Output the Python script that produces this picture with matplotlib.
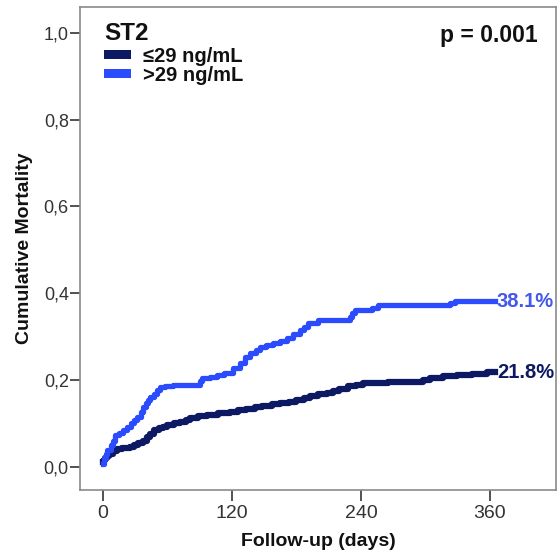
import numpy as np
import matplotlib
matplotlib.use("Agg")
import matplotlib.pyplot as plt
from matplotlib.patches import Patch

plt.rcParams['font.family'] = ['Liberation Sans', 'DejaVu Sans']

# Courbes de mortalité cumulée
jours_haut = [0, 1, 3, 4, 7, 9, 11, 15, 19, 22, 26, 29, 32, 35, 37, 40, 42, 44,
              47, 50, 53, 58, 65, 90, 92, 100, 106, 113, 121, 127, 132, 137,
              142, 146, 152, 158, 165, 171, 177, 183, 187, 191, 200, 230, 232,
              234, 250, 256, 323, 327, 365]
mort_haut = [0.005, 0.02, 0.03, 0.038, 0.05, 0.06, 0.073, 0.078, 0.085, 0.091,
             0.1, 0.107, 0.114, 0.125, 0.137, 0.147, 0.153, 0.16, 0.168, 0.176,
             0.183, 0.186, 0.188, 0.198, 0.204, 0.207, 0.211, 0.216, 0.227,
             0.24, 0.253, 0.262, 0.268, 0.276, 0.28, 0.285, 0.29, 0.296, 0.305,
             0.315, 0.322, 0.331, 0.338, 0.345, 0.355, 0.361, 0.366, 0.373,
             0.377, 0.381, 0.381]

jours_bas = [0, 1, 2, 4, 6, 9, 13, 18, 25, 29, 33, 37, 41, 44, 47, 52, 56, 60,
             66, 72, 77, 81, 88, 97, 107, 118, 126, 133, 141, 148, 157, 165,
             173, 180, 187, 193, 200, 208, 214, 220, 228, 235, 242, 265, 292,
             298, 304, 316, 329, 343, 357, 365]
mort_bas = [0.01, 0.015, 0.02, 0.025, 0.03, 0.035, 0.04, 0.042, 0.045, 0.05,
            0.054, 0.06, 0.068, 0.076, 0.084, 0.088, 0.092, 0.096, 0.1, 0.103,
            0.108, 0.112, 0.116, 0.12, 0.123, 0.127, 0.13, 0.133, 0.137, 0.14,
            0.144, 0.147, 0.15, 0.153, 0.158, 0.163, 0.167, 0.17, 0.175, 0.18,
            0.185, 0.189, 0.193, 0.194, 0.196, 0.2, 0.205, 0.208, 0.211, 0.214,
            0.218, 0.218]

etiquettes = ["\u226429 ng/mL", ">29 ng/mL"]
fin_bas, fin_haut = "21.8%", "38.1%"
x_ticks = [0, 120, 240, 360]
y_ticks = [0.0, 0.2, 0.4, 0.6, 0.8, 1.0]

c_bas = '#0d1a63'
c_haut = '#2b4bff'

fig = plt.figure(figsize=(5.57, 5.59), dpi=100)
ax = fig.add_axes([0.1436, 0.1234, 0.8546, 0.864])

ax.plot(jours_bas, mort_bas, drawstyle='steps-post', color=c_bas, lw=4.5)
ax.plot(jours_haut, mort_haut, drawstyle='steps-post', color=c_haut, lw=3.8)

ax.text(jours_haut[-1] + 1.5, mort_haut[-1], fin_haut, color='#4458ee',
        fontsize=14.5, fontweight='bold', va='center', ha='left')
ax.text(jours_bas[-1] + 1.5, mort_bas[-1], fin_bas, color=c_bas,
        fontsize=14.5, fontweight='bold', va='center', ha='left')

ax.text(0.05, 0.968, "ST2", transform=ax.transAxes, fontsize=17.5,
        fontweight='bold', va='top', ha='left', color='#111111')
ax.text(0.962, 0.965, "p = 0.001", transform=ax.transAxes, fontsize=16.5,
        fontweight='bold', va='top', ha='right', color='#111111')

handles = [Patch(facecolor=c_bas, edgecolor='none'),
           Patch(facecolor=c_haut, edgecolor='none')]
leg = ax.legend(handles, etiquettes, loc='upper left',
                bbox_to_anchor=(0.05, 0.918), frameon=False, fontsize=14.5,
                borderpad=0, borderaxespad=0, handlelength=1.35,
                handleheight=0.33, handletextpad=0.6, labelspacing=0)
for t in leg.get_texts():
    t.set_fontweight('bold')
    t.set_color('#111111')

ax.set_xlim(-21.4, 421.4)
ax.set_ylim(-0.054, 1.06)
ax.set_xticks(x_ticks)
ax.set_yticks(y_ticks)
ax.set_yticklabels([f"{v:.1f}".replace('.', ',') for v in y_ticks])

for s in ax.spines.values():
    s.set_color('#8a8a8a')
    s.set_linewidth(1.2)

ax.tick_params(axis='x', length=8, width=1.3, color='#444444', pad=3,
               labelsize=14, labelcolor='#333333')
ax.tick_params(axis='y', length=7, width=1.3, color='#444444', pad=1,
               labelsize=13, labelcolor='#333333')

ax.set_xlabel("Follow-up (days)", fontsize=14, fontweight='bold', labelpad=8,
              color='#111111')
ax.set_ylabel("Cumulative Mortality", fontsize=14, fontweight='bold', labelpad=8,
              color='#111111')

fig.savefig("out.png", dpi=100)
